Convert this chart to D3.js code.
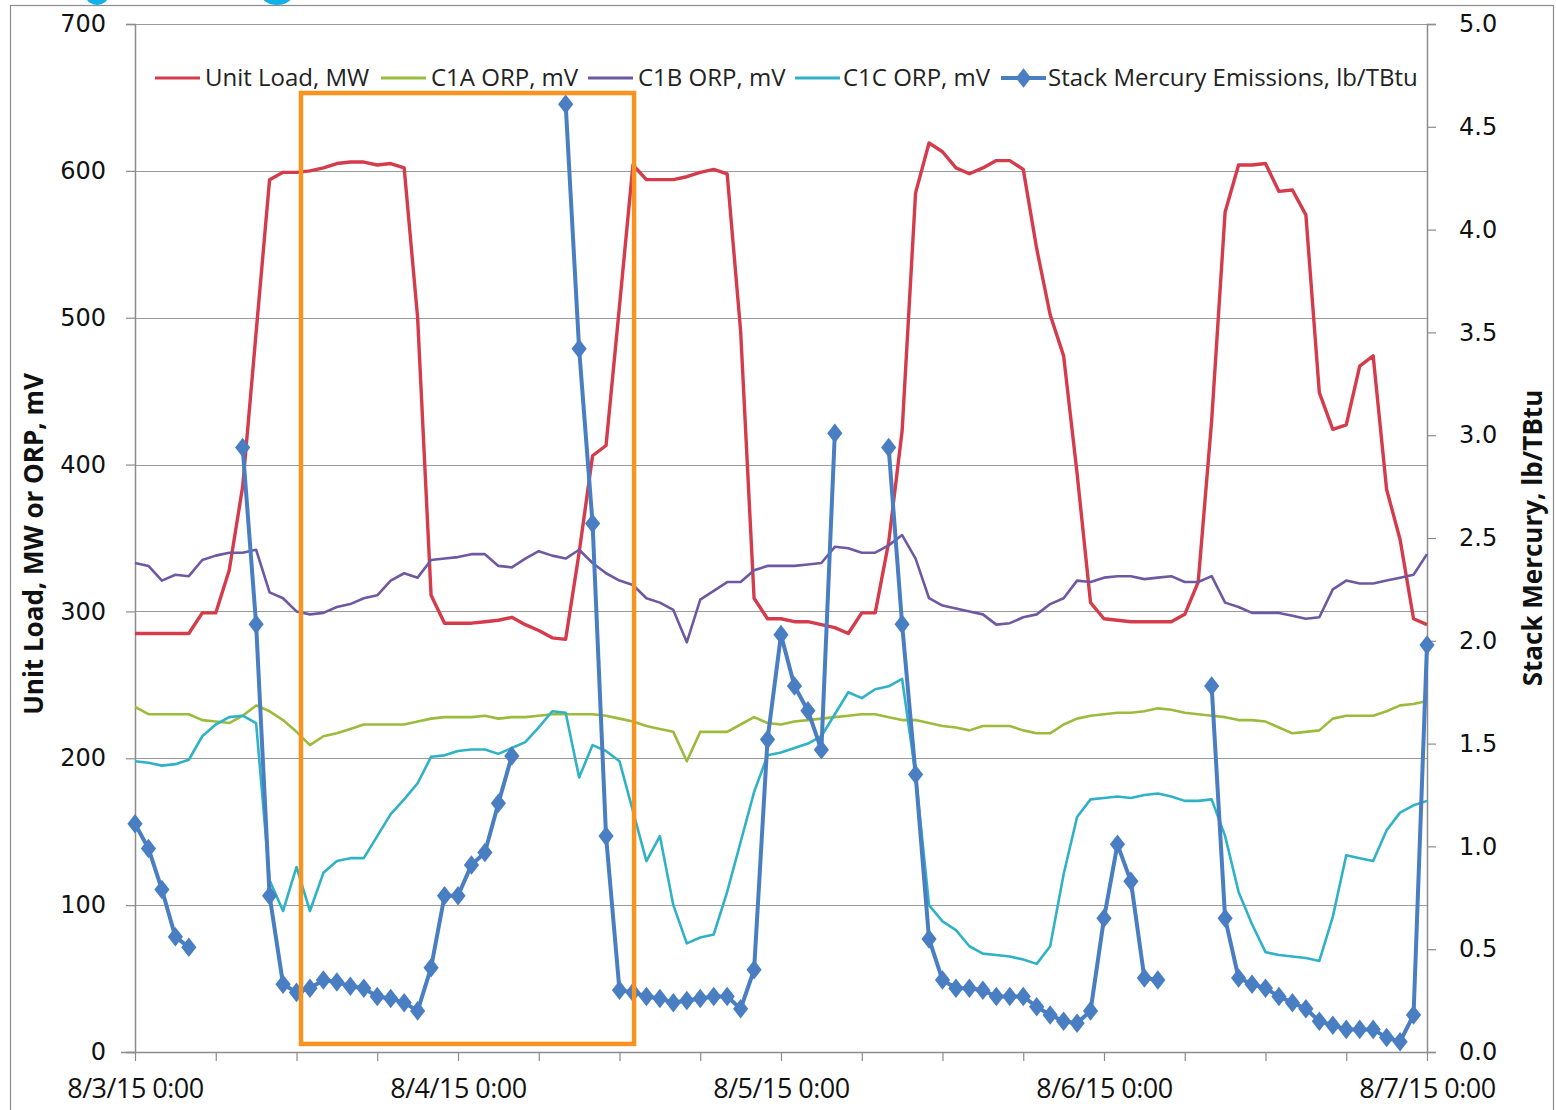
<!DOCTYPE html>
<html>
<head>
<meta charset="utf-8">
<script src="https://cdn.jsdelivr.net/npm/d3@7"></script>
<style>
  html, body { margin: 0; padding: 0; background: #fff; }
  svg { display: block; }
</style>
</head>
<body>
<svg id="chart" width="1556" height="1110"></svg>
<script>
// Hourly readings, 8/3/15 0:00 through 8/7/15 0:00 (97 samples)
const startTime = new Date(2015, 7, 3, 0, 0);
const endTime = new Date(2015, 7, 7, 0, 0);

const unitLoad = [
  285, 285, 285, 285, 285, 299, 299, 328, 385, 490, 594, 599, 599, 600, 602, 605,
  606, 606, 604, 605, 602, 500, 311, 292, 292, 292, 293, 294, 296, 291, 287, 282,
  281, 340, 406, 413, 508, 604, 594, 594, 594, 596, 599, 601, 598, 491, 309, 295,
  295, 293, 293, 291, 289, 285, 299, 299, 347, 423, 585, 619, 613, 602, 598, 602,
  607, 607, 601, 547, 502, 474, 394, 306, 295, 294, 293, 293, 293, 293, 298, 320,
  430, 572, 604, 604, 605, 586, 587, 570, 449, 424, 427, 467, 474, 383, 349, 295,
  291
];

const c1aOrp = [
  235, 230, 230, 230, 230, 226, 225, 224, 229, 236, 232, 226, 218, 209, 215, 217,
  220, 223, 223, 223, 223, 225, 227, 228, 228, 228, 229, 227, 228, 228, 229, 230,
  230, 230, 230, 229, 227, 225, 222, 220, 218, 198, 218, 218, 218, 223, 228, 224,
  223, 225, 226, 227, 228, 229, 230, 230, 228, 226, 226, 224, 222, 221, 219, 222,
  222, 222, 219, 217, 217, 223, 227, 229, 230, 231, 231, 232, 234, 233, 231, 230,
  229, 228, 226, 226, 225, 221, 217, 218, 219, 227, 229, 229, 229, 232, 236, 237,
  239
];

const c1bOrp = [
  333, 331, 321, 325, 324, 335, 338, 340, 340, 342, 313, 309, 300, 298, 299, 303,
  305, 309, 311, 321, 326, 323, 335, 336, 337, 339, 339, 331, 330, 336, 341, 338,
  336, 342, 333, 326, 321, 318, 309, 306, 301, 279, 308, 314, 320, 320, 328, 331,
  331, 331, 332, 333, 344, 343, 340, 340, 345, 352, 336, 309, 304, 302, 300, 298,
  291, 292, 296, 298, 305, 309, 321, 320, 323, 324, 324, 322, 323, 324, 320, 320,
  324, 306, 303, 299, 299, 299, 297, 295, 296, 315, 321, 319, 319, 321, 323, 325,
  339
];

const c1cOrp = [
  198, 197, 195, 196, 199, 215, 223, 228, 229, 224, 117, 96, 126, 96, 122, 130,
  132, 132, 147, 162, 172, 183, 201, 202, 205, 206, 206, 203, 207, 211, 221, 232,
  231, 187, 209, 205, 198, 164, 130, 147, 100, 74, 78, 80, 109, 143, 177, 202,
  204, 207, 210, 215, 230, 245, 241, 247, 249, 254, 189, 100, 89, 83, 72, 67,
  66, 65, 63, 60, 72, 121, 160, 172, 173, 174, 173, 175, 176, 174, 171, 171,
  172, 147, 109, 87, 68, 66, 65, 64, 62, 92, 134, 132, 130, 151, 163, 168,
  171
];

// lb/TBtu; null where no reading was reported
const stackMercury = [
  1.11, 0.99, 0.79, 0.56, 0.51, null, null, null, 2.94, 2.08, 0.76, 0.33, 0.29, 0.31, 0.35, 0.34,
  0.32, 0.31, 0.27, 0.26, 0.24, 0.20, 0.41, 0.76, 0.76, 0.91, 0.97, 1.21, 1.44, null, null, null,
  4.61, 3.42, 2.57, 1.05, 0.30, 0.29, 0.27, 0.26, 0.24, 0.25, 0.26, 0.27, 0.27, 0.21, 0.40, 1.52,
  2.03, 1.78, 1.66, 1.47, 3.01, null, null, null, 2.94, 2.08, 1.35, 0.55, 0.35, 0.31, 0.31, 0.30,
  0.27, 0.27, 0.27, 0.22, 0.18, 0.15, 0.14, 0.20, 0.65, 1.01, 0.83, 0.36, 0.35, null, null, null,
  1.78, 0.65, 0.36, 0.33, 0.31, 0.27, 0.24, 0.21, 0.15, 0.13, 0.11, 0.11, 0.11, 0.07, 0.05, 0.18,
  1.98
];

const leftTicks = [0, 100, 200, 300, 400, 500, 600, 700];
const rightTicks = [0.0, 0.5, 1.0, 1.5, 2.0, 2.5, 3.0, 3.5, 4.0, 4.5, 5.0];

const seriesNames = [
  "Unit Load, MW",
  "C1A ORP, mV",
  "C1B ORP, mV",
  "C1C ORP, mV",
  "Stack Mercury Emissions, lb/TBtu"
];
const seriesColors = ["#d43c4c", "#9bbb3c", "#6f58a2", "#30b2c6", "#4a7ec2"];

// Highlighted period: 8/3 12:20 to 8/4 13:05, spanning the full load range
const highlightStart = new Date(2015, 7, 3, 12, 20);
const highlightEnd = new Date(2015, 7, 4, 13, 5);
const highlightLow = 5.5;
const highlightHigh = 653;

const svg = d3.select("#chart");
const plot = { left: 135, right: 1427, top: 24, bottom: 1052 };

const x = d3.scaleTime().domain([startTime, endTime]).range([plot.left, plot.right]);
const yL = d3.scaleLinear().domain([0, 700]).range([plot.bottom, plot.top]);
const yR = d3.scaleLinear().domain([0, 5]).range([plot.bottom, plot.top]);

const timeAt = i => d3.timeHour.offset(startTime, i);

// Outer frame
svg.append("rect").attr("x", 10.5).attr("y", 5.5).attr("width", 1543).attr("height", 1120)
  .attr("fill", "none").attr("stroke", "#8c8c8c").attr("stroke-width", 1.2);

// Partial cyan marks clipped at the top edge
svg.append("ellipse").attr("cx", 97).attr("cy", -4).attr("rx", 11).attr("ry", 9).attr("fill", "#12b1e6");
svg.append("ellipse").attr("cx", 277).attr("cy", -6).attr("rx", 16).attr("ry", 11).attr("fill", "#12b1e6");

// Horizontal gridlines
svg.append("g").selectAll("line").data(leftTicks.filter(d => d > 0)).join("line")
  .attr("x1", plot.left).attr("x2", plot.right)
  .attr("y1", d => Math.round(yL(d)) + 0.5).attr("y2", d => Math.round(yL(d)) + 0.5)
  .attr("stroke", "#9a9a9a").attr("stroke-width", 1.2);

// Left axis
const leftAxis = svg.append("g").attr("transform", `translate(${plot.left},0)`)
  .call(d3.axisLeft(yL).tickValues(leftTicks).tickSize(9).tickPadding(20).tickFormat(d3.format("d")));
leftAxis.select(".domain").attr("stroke", "#8c8c8c").attr("stroke-width", 1.5);
leftAxis.selectAll(".tick line").attr("stroke", "#8c8c8c").attr("stroke-width", 1.2);
leftAxis.selectAll("text").attr("font-family", "'DejaVu Sans', Verdana, sans-serif")
  .attr("font-size", 24).attr("fill", "#111");

// Right axis
const rightAxis = svg.append("g").attr("transform", `translate(${plot.right},0)`)
  .call(d3.axisRight(yR).tickValues(rightTicks).tickSize(9).tickPadding(23).tickFormat(d3.format(".1f")));
rightAxis.select(".domain").attr("stroke", "#8c8c8c").attr("stroke-width", 1.5);
rightAxis.selectAll(".tick line").attr("stroke", "#8c8c8c").attr("stroke-width", 1.2);
rightAxis.selectAll("text").attr("font-family", "'DejaVu Sans', Verdana, sans-serif")
  .attr("font-size", 24).attr("fill", "#111");

// Bottom axis: ticks every 6 hours, labels at midnight
const bottomAxis = svg.append("g").attr("transform", `translate(0,${plot.bottom})`)
  .call(d3.axisBottom(x).ticks(d3.timeHour.every(6)).tickSize(9).tickPadding(18)
    .tickFormat(d => d.getHours() === 0 ? d3.timeFormat("%-m/%-d/%y %-H:%M")(d) : ""));
bottomAxis.select(".domain").attr("stroke", "#8c8c8c").attr("stroke-width", 1.5)
  .attr("d", `M${plot.left - 14},0.5H${plot.right}`);
bottomAxis.selectAll(".tick line").attr("stroke", "#8c8c8c").attr("stroke-width", 1.2);
bottomAxis.selectAll("text").attr("font-family", "'Open Sans', sans-serif")
  .attr("font-size", 27).attr("letter-spacing", "-0.5px").attr("fill", "#111");

// Axis titles
svg.append("text").attr("transform", `translate(43,${(plot.top + plot.bottom) / 2 + 6}) rotate(-90)`)
  .attr("text-anchor", "middle").attr("font-family", "'Open Sans', sans-serif")
  .attr("font-weight", "bold").attr("font-size", 26).attr("fill", "#111")
  .text("Unit Load, MW or ORP, mV");
svg.append("text").attr("transform", `translate(1542,${(plot.top + plot.bottom) / 2}) rotate(-90)`)
  .attr("text-anchor", "middle").attr("font-family", "'Open Sans', sans-serif")
  .attr("font-weight", "bold").attr("font-size", 26).attr("fill", "#111")
  .text("Stack Mercury, lb/TBtu");

// Left-axis lines
const lineL = d3.line().x((d, i) => x(timeAt(i))).y(d => yL(d));
[unitLoad, c1aOrp, c1bOrp, c1cOrp].forEach((s, k) => {
  svg.append("path").datum(s).attr("d", lineL).attr("fill", "none")
    .attr("stroke", seriesColors[k]).attr("stroke-width", k === 0 ? 3.4 : 2.6)
    .attr("stroke-linejoin", "round");
});

// Mercury emissions on the right axis, with gaps for missing hours
const hgPts = stackMercury.map((v, i) => ({ t: timeAt(i), v }));
const lineR = d3.line().defined(d => d.v !== null).x(d => x(d.t)).y(d => yR(d.v));
svg.append("path").datum(hgPts).attr("d", lineR).attr("fill", "none")
  .attr("stroke", seriesColors[4]).attr("stroke-width", 4).attr("stroke-linejoin", "round");
const diamond = d3.symbol().type(d3.symbolDiamond).size(110);
svg.append("g").selectAll("path").data(hgPts.filter(d => d.v !== null)).join("path")
  .attr("transform", d => `translate(${x(d.t)},${yR(d.v)}) scale(1.35,1)`)
  .attr("d", diamond).attr("fill", seriesColors[4]);

// Highlight box
svg.append("rect")
  .attr("x", x(highlightStart)).attr("y", yL(highlightHigh))
  .attr("width", x(highlightEnd) - x(highlightStart))
  .attr("height", yL(highlightLow) - yL(highlightHigh))
  .attr("fill", "none").attr("stroke", "#f7931e").attr("stroke-width", 4.5);

// Legend
const legendItems = [
  { x0: 155, tx: 205 },
  { x0: 381, tx: 431 },
  { x0: 588, tx: 638 },
  { x0: 795, tx: 843 },
  { x0: 1001, tx: 1048 }
];
const legend = svg.append("g");
legendItems.forEach((it, k) => {
  legend.append("line").attr("x1", it.x0).attr("x2", it.x0 + 45).attr("y1", 78).attr("y2", 78)
    .attr("stroke", seriesColors[k]).attr("stroke-width", k === 4 ? 4 : 3);
  if (k === 4) {
    legend.append("path").attr("transform", `translate(${it.x0 + 22.5},78) scale(1.35,1)`)
      .attr("d", diamond).attr("fill", seriesColors[4]);
  }
  legend.append("text").attr("x", it.tx).attr("y", 78).attr("dy", "0.35em")
    .attr("font-family", "'Open Sans', sans-serif").attr("font-size", 24)
    .attr("fill", "#222")
    .text(seriesNames[k]);
});
</script>
</body>
</html>
